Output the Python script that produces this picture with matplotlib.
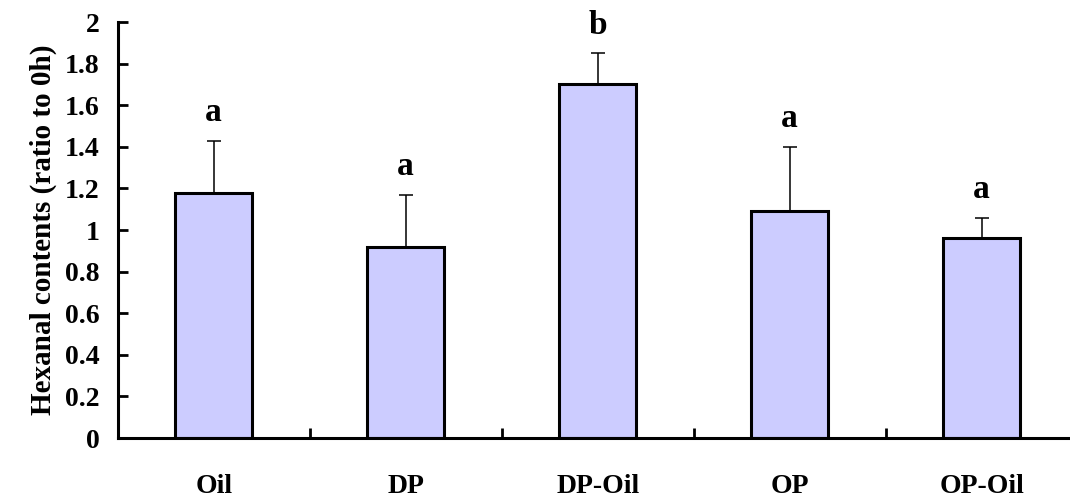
import matplotlib
matplotlib.use('Agg')
import matplotlib.pyplot as plt
import numpy as np

# 数据
groups = ['Oil', 'DP', 'DP-Oil', 'OP', 'OP-Oil']
means = [1.18, 0.92, 1.70, 1.09, 0.96]
errs = [0.25, 0.25, 0.15, 0.31, 0.10]
letters = ['a', 'a', 'b', 'a', 'a']

plt.rcParams['font.family'] = ['Liberation Serif', 'DejaVu Serif']
plt.rcParams['font.weight'] = 'bold'

fig = plt.figure(figsize=(10.7, 5), dpi=100)
ax = fig.add_axes([0.110, 0.124, 0.890, 0.832])

x = np.arange(len(groups))
ax.bar(x, means, width=0.4, color='#CCCCFF', edgecolor='black', linewidth=2.2, zorder=2)
ax.errorbar(x, means, yerr=[np.zeros(len(means)), errs], fmt='none', ecolor='black',
            elinewidth=1.1, capsize=4.7, capthick=1.1, zorder=1)

for xi, m, e, t in zip(x, means, errs, letters):
    ax.annotate(t, (xi, m + e), xytext=(0, 9), textcoords='offset points',
                ha='center', va='bottom', fontsize=24, fontweight='bold')

ax.set_xlim(-0.5, 4.46)
ax.set_ylim(0, 2)
ax.set_yticks(np.arange(0, 2.01, 0.2))
ax.set_yticklabels(['0', '0.2', '0.4', '0.6', '0.8', '1', '1.2', '1.4', '1.6', '1.8', '2'])
ax.set_xticks(x)
ax.set_xticklabels(groups)
ax.set_xticks(np.arange(0.5, 4, 1), minor=True)

ax.tick_params(axis='y', direction='in', length=7, width=2, labelsize=20, pad=13)
ax.tick_params(axis='x', which='major', length=0, labelsize=20, pad=26)
ax.tick_params(axis='x', which='minor', direction='in', length=7, width=2)
for lab in ax.get_xticklabels() + ax.get_yticklabels():
    lab.set_fontweight('bold')

ax.spines['top'].set_visible(False)
ax.spines['right'].set_visible(False)
ax.spines['left'].set_linewidth(2.2)
ax.spines['bottom'].set_linewidth(2.2)

ax.set_ylabel('Hexanal contents (ratio to 0h)', fontsize=21, fontweight='bold', labelpad=6)

fig.savefig('out.png', dpi=100)
